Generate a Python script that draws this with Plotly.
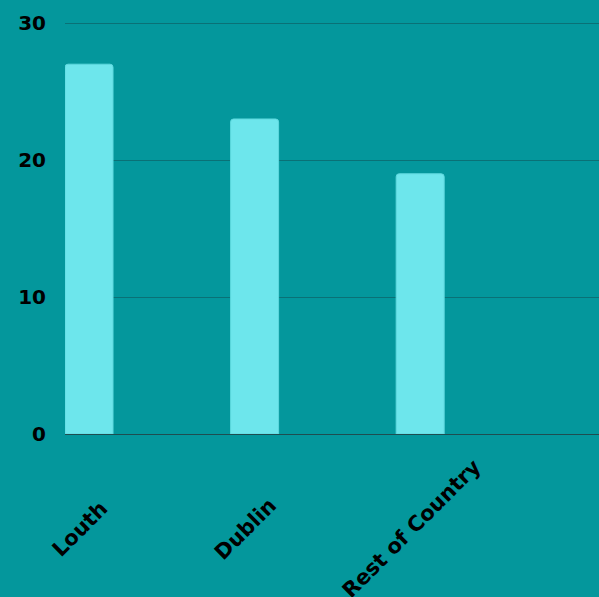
import plotly.graph_objects as go

categories = ["Louth", "Dublin", "Rest of Country"]
values = [27, 23, 19]
y_ticks = [0, 10, 20, 30]

BG = "#04979C"
BAR = "#6DE6EC"
FONT = "DejaVu Sans"

xpos = list(range(len(categories)))

fig = go.Figure()
fig.add_trace(go.Bar(
    x=xpos, y=values, width=0.29,
    marker=dict(color=BAR, line=dict(color="#5ED8DE", width=1), cornerradius=3),
    hoverinfo="skip",
))

for xi, name in zip(xpos, categories):
    fig.add_annotation(
        x=xi - 0.055, xref="x", y=-0.2285, yref="paper",
        text="<b>%s</b>" % name, showarrow=False, textangle=-45,
        xanchor="center", yanchor="middle",
        font=dict(family=FONT, size=21, color="#000000"),
    )

fig.update_layout(
    width=599, height=597,
    margin=dict(l=65, r=0, t=19, b=163),
    paper_bgcolor=BG, plot_bgcolor=BG,
    showlegend=False,
    font=dict(family=FONT, color="#000000"),
)
fig.update_xaxes(
    range=[-0.145, 3.08], showticklabels=False, showgrid=False,
    zeroline=False, showline=False, ticks="",
)
fig.update_yaxes(
    range=[0, 30.3], tickvals=y_ticks, ticktext=["<b>%d</b>" % v for v in y_ticks],
    tickfont=dict(family=FONT, size=20, color="#000000"),
    showgrid=True, gridcolor="#0A7176", gridwidth=1,
    zeroline=True, zerolinecolor="#1E4D50", zerolinewidth=1,
    showline=False, ticks="", ticklabelstandoff=18,
)

fig.write_html(
    "out.html",
    config={"displayModeBar": False},
    post_script="document.body.style.margin='0';document.body.style.overflow='hidden';document.body.style.background='%s';" % BG,
)
